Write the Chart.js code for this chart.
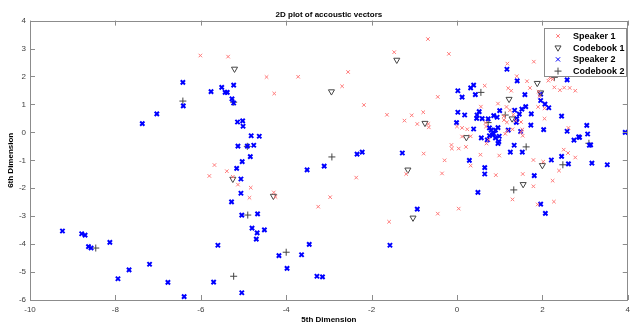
<!DOCTYPE html>
<html>
<head>
<meta charset="utf-8">
<script src="https://cdn.jsdelivr.net/npm/chart.js@4.4.1/dist/chart.umd.min.js"></script>
<style>
  html, body { margin: 0; padding: 0; background: #fff; }
  #wrap { width: 635px; height: 324px; position: relative; }
</style>
</head>
<body>
<div id="wrap"><canvas id="chart"></canvas></div>
<script>
const xTicks = [-10, -8, -6, -4, -2, 0, 2, 4];
const yTicks = [-6, -5, -4, -3, -2, -1, 0, 1, 2, 3, 4];

const speaker1 = [
  [-6.01,2.75],[-5.36,2.71],[-4.46,1.98],[-3.72,1.99],[-4.28,1.39],[-5.68,-1.17],[-5.80,-1.56],[-5.39,-1.39],
  [-5.25,-1.59],[-5.13,-1.87],[-4.83,-1.98],[-4.86,-2.34],[-4.29,-2.15],[-4.25,-2.31],[-2.36,-1.62],[-2.97,-2.32],
  [-3.25,-2.66],[-1.59,-3.20],[-1.19,-1.49],[-0.35,-1.47],[-0.45,-2.91],[0.04,-2.73],[0.32,-1.19],[0.91,-1.53],
  [1.54,-1.49],[1.30,-2.40],[1.79,-1.93],[1.89,-2.58],[2.27,-2.48],[2.24,-1.73],[2.39,-1.37],[-0.29,-1.00],
  [1.79,-0.99],[-0.68,3.34],[-1.47,2.87],[-2.55,2.16],[-2.69,1.65],[-2.18,0.98],[-1.64,0.63],[-0.45,1.27],
  [-1.23,0.42],[-1.06,0.61],[-0.79,0.72],[-0.93,0.30],[-0.67,0.30],[-0.66,0.18],[-0.19,2.81],[1.18,2.46],
  [1.80,2.53],[1.40,2.01],[1.64,1.83],[1.71,1.59],[1.20,1.58],[1.27,1.49],[2.17,1.96],[2.24,1.90],
  [2.14,1.85],[2.28,1.61],[2.41,1.51],[2.51,1.60],[2.64,1.59],[2.77,1.49],[1.91,1.46],[1.93,1.30],
  [1.90,0.91],[2.05,0.86],[2.05,0.49],[0.96,1.03],[1.16,0.91],[1.24,0.79],[1.32,0.63],[1.10,0.58],
  [1.10,0.44],[1.17,0.36],[1.37,0.42],[1.50,0.37],[1.53,0.10],[1.50,0.00],[1.54,-0.12],[1.13,-0.05],
  [1.18,0.06],[1.30,0.11],[0.65,1.67],[0.56,0.92],[0.67,0.34],[0.68,0.21],[0.00,0.21],[0.12,0.16],
  [0.24,0.11],[0.32,-0.14],[0.21,-0.52],[-0.13,-0.45],[-0.12,-0.58],[0.04,-0.58],[0.69,-0.40],[0.74,-0.26],
  [0.99,-0.83],[0.55,-0.80],[-0.78,-0.76],[2.50,-0.62],[2.60,-0.74],[2.77,-0.90],[2.61,0.16],[0.12,-0.15],
  [2.02,-1.05]
];

const codebook1 = [
  [-5.21,2.27],[-1.41,2.59],[-2.94,1.46],[-0.75,0.33],[-5.25,-1.67],[-4.30,-2.28],[-1.15,-1.34],[-1.03,-3.06],
  [1.55,-1.86],[2.00,-1.18],[0.22,-0.18],[1.22,1.19],[1.29,0.49],[1.88,1.76],[1.96,1.42]
];

const speaker2 = [
  [-6.42,1.79],[-5.76,1.46],[-5.51,1.61],[-5.43,1.43],[-5.38,1.43],[-5.23,1.69],[-5.27,1.20],[-5.23,1.05],
  [-6.41,0.95],[-7.03,0.66],[-7.37,0.31],[-5.14,0.37],[-5.02,0.41],[-5.01,0.22],[-4.82,-0.12],[-4.63,-0.14],
  [-5.13,-0.49],[-4.91,-0.49],[-4.76,-0.46],[-4.84,-0.87],[-5.03,-1.05],[-5.16,-1.29],[-3.51,-1.34],[-5.06,-1.67],
  [-5.06,-2.18],[-5.28,-2.49],[-5.04,-2.96],[-4.67,-2.92],[-4.80,-3.43],[-4.68,-3.60],[-4.70,-3.82],[-4.51,-3.49],
  [-9.24,-3.53],[-8.79,-3.63],[-8.71,-3.68],[-8.63,-4.09],[-8.57,-4.14],[-8.13,-3.94],[-7.94,-5.24],[-7.68,-4.92],
  [-7.20,-4.72],[-6.77,-5.37],[-6.39,-5.88],[-5.70,-5.36],[-5.60,-4.04],[-5.04,-5.74],[-4.17,-4.41],[-3.98,-4.87],
  [-3.64,-4.38],[-3.46,-4.01],[-3.28,-5.15],[-3.15,-5.17],[-3.11,-1.21],[-1.57,-4.04],[-0.93,-2.75],[0.49,-2.15],
  [1.96,-2.57],[2.07,-2.90],[0.65,-1.26],[0.65,-1.49],[1.81,-1.55],[2.61,-1.13],[3.16,-1.10],[3.52,-1.16],
  [2.21,-0.99],[0.29,-1.00],[-2.34,-0.78],[-2.22,-0.71],[-1.28,-0.74],[1.17,2.26],[1.41,1.84],[1.59,1.35],
  [1.96,1.37],[1.96,1.14],[2.06,1.01],[2.15,0.88],[2.58,1.88],[2.45,0.58],[3.04,0.25],[3.06,-0.06],
  [3.10,-0.46],[3.94,0.00],[2.85,-0.16],[2.74,-0.28],[2.58,0.04],[2.03,0.10],[1.73,0.26],[1.74,0.66],
  [1.61,0.92],[1.52,0.83],[1.46,0.65],[1.35,0.79],[1.40,0.49],[1.39,0.36],[1.34,-0.46],[1.53,-0.71],
  [1.25,-0.71],[0.98,-0.33],[0.99,-0.14],[0.90,0.08],[0.96,0.17],[0.86,-0.05],[0.80,0.08],[0.76,0.16],
  [0.71,-0.27],[0.94,0.54],[1.00,0.78],[0.86,0.60],[0.73,0.48],[0.59,0.49],[0.57,-0.20],[0.47,0.62],
  [0.46,0.50],[0.52,0.74],[0.39,0.12],[0.18,0.62],[0.02,0.72],[-0.01,0.35],[0.02,1.49],[0.12,1.26],
  [0.32,1.59],[0.39,1.69],[0.43,1.35],[2.45,-0.86],[1.49,0.03],[0.76,-0.12],[0.83,-0.09],[0.90,-0.20],
  [0.96,-0.40],[1.20,0.08],[3.13,-0.45],[2.87,-0.18]
];

const codebook2 = [
  [-6.42,1.12],[-5.23,1.08],[-4.91,-0.50],[-4.90,-2.96],[-8.46,-4.14],[-4.00,-4.29],[-5.23,-5.15],[-2.93,-0.88],
  [0.56,1.43],[0.73,0.35],[1.13,0.62],[1.62,-0.52],[2.48,-1.16],[3.09,-0.39],[2.28,1.97],[1.33,-2.06]
];

const toPts = arr => arr.map(p => ({x: p[0], y: p[1]}));
const FONT = "'Liberation Sans', Arial, sans-serif";

// MATLAB style box with inward tick marks
const frame = {
  id: "frame",
  afterDatasetsDraw(chart){
    const {ctx, chartArea: a, scales} = chart;
    ctx.save();
    ctx.strokeStyle = "#8c8c8c";
    ctx.lineWidth = 1;
    ctx.strokeRect(Math.round(a.left) + 0.5, Math.round(a.top) + 0.5,
                   Math.round(a.right - a.left) - 1, Math.round(a.bottom - a.top));
    ctx.beginPath();
    for (const v of xTicks){
      const px = Math.round(scales.x.getPixelForValue(v)) + 0.5;
      ctx.moveTo(px, a.bottom); ctx.lineTo(px, a.bottom - 5);
      ctx.moveTo(px, a.top); ctx.lineTo(px, a.top + 5);
    }
    for (const v of yTicks){
      const py = Math.round(scales.y.getPixelForValue(v)) + 0.5;
      ctx.moveTo(a.left, py); ctx.lineTo(a.left + 5, py);
      ctx.moveTo(a.right, py); ctx.lineTo(a.right - 5, py);
    }
    ctx.stroke();
    ctx.restore();
  }
};

// boxed legend in the top right corner
const boxLegend = {
  id: "boxLegend",
  afterDraw(chart){
    const ctx = chart.ctx;
    const bx = 544.5, by = 28.5, bw = 82, bh = 48;
    ctx.save();
    ctx.fillStyle = "#fff";
    ctx.fillRect(bx, by, bw, bh);
    ctx.strokeStyle = "#8c8c8c";
    ctx.lineWidth = 1;
    ctx.strokeRect(bx, by, bw, bh);
    ctx.font = "bold 9px " + FONT;
    ctx.textBaseline = "middle";
    chart.data.datasets.forEach((ds, i) => {
      const y = by + 7.5 + i * 11.7;
      ctx.strokeStyle = ds.borderColor;
      ctx.fillStyle = ds.backgroundColor;
      Chart.helpers.drawPoint(ctx, {
        pointStyle: ds.pointStyle, rotation: ds.rotation || 0,
        radius: ds.pointRadius, borderWidth: ds.borderWidth
      }, 558, y);
      ctx.fillStyle = "#000";
      ctx.fillText(ds.label, 573, y + 0.5);
    });
    ctx.restore();
  }
};

new Chart(document.getElementById("chart").getContext("2d"), {
  type: "scatter",
  data: {
    datasets: [
      { label: "Speaker 1", data: toPts(speaker1), pointStyle: "crossRot", pointRadius: 2.5,
        borderWidth: 1, borderColor: "#ff7a7a", backgroundColor: "#ff7a7a" },
      { label: "Codebook 1", data: toPts(codebook1), pointStyle: "triangle", rotation: 180, pointRadius: 3.5,
        borderWidth: 1, borderColor: "#444", backgroundColor: "rgba(255,255,255,0)" },
      { label: "Speaker 2", data: toPts(speaker2), pointStyle: "crossRot", pointRadius: 3,
        borderWidth: 2, borderColor: "#0000ff", backgroundColor: "#0000ff" },
      { label: "Codebook 2", data: toPts(codebook2), pointStyle: "cross", pointRadius: 3.5,
        borderWidth: 1, borderColor: "#444", backgroundColor: "#444" }
    ]
  },
  options: {
    responsive: true,
    maintainAspectRatio: false,
    animation: false,
    layout: { padding: { left: 0, right: 1, top: 0, bottom: 0 } },
    plugins: {
      legend: { display: false },
      tooltip: { enabled: false },
      title: {
        display: true, text: "2D plot of accoustic vectors", fullSize: false,
        color: "#000", font: { family: FONT, size: 8, weight: "bold" },
        padding: { top: 10, bottom: 1 }
      }
    },
    scales: {
      x: {
        type: "linear", min: -10, max: 4,
        afterBuildTicks: s => { s.ticks = xTicks.map(v => ({ value: v })); },
        afterFit: s => { s.height = 24; },
        grid: { display: false, drawTicks: false },
        border: { display: false },
        ticks: { color: "#404040", font: { family: FONT, size: 8 }, padding: 5, maxRotation: 0 },
        title: { display: true, text: "5th Dimension", color: "#000",
                 font: { family: FONT, size: 8, weight: "bold", lineHeight: 1 }, padding: 0 }
      },
      y: {
        type: "linear", min: -6, max: 4,
        afterBuildTicks: s => { s.ticks = yTicks.map(v => ({ value: v })); },
        afterFit: s => { s.width = 30; },
        grid: { display: false, drawTicks: false },
        border: { display: false },
        ticks: { color: "#404040", font: { family: FONT, size: 8 }, padding: 4 },
        title: { display: true, text: "6th Dimension", color: "#000",
                 font: { family: FONT, size: 8, weight: "bold", lineHeight: 1 }, padding: { top: 7 } }
      }
    }
  },
  plugins: [frame, boxLegend]
});
</script>
</body>
</html>
